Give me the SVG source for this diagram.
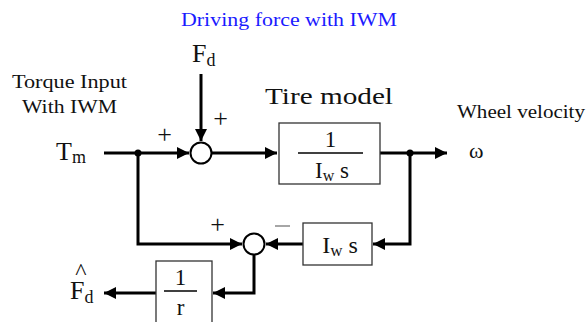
<svg xmlns="http://www.w3.org/2000/svg" width="587" height="322" viewBox="0 0 587 322">
<style>
text{font-family:"Liberation Serif","Times New Roman",serif;fill:#111}
.ln{fill:none;stroke:#000;stroke-width:3}
.bx{fill:#fff;stroke:#333;stroke-width:1.3}
.sum{fill:#fff;stroke:#000;stroke-width:2}
.fl{stroke:#000;stroke-width:1.5}
.pl{font-size:26px;text-anchor:middle}
</style>
<defs>
<marker id="ah" markerWidth="12" markerHeight="12" refX="10" refY="5" orient="auto" markerUnits="userSpaceOnUse" viewBox="0 0 10 10">
<path d="M0,0 L10,5 L0,10 Z" fill="#000"/>
</marker>
</defs>
<rect width="587" height="322" fill="#fff"/>
<text x="181" y="26" font-size="19" textLength="216" lengthAdjust="spacingAndGlyphs" style="fill:#1a1aff">Driving force with IWM</text>
<g id="labels">
<text x="12" y="88" font-size="19" textLength="115" lengthAdjust="spacingAndGlyphs">Torque Input</text>
<text x="22" y="113" font-size="19" textLength="95" lengthAdjust="spacingAndGlyphs">With IWM</text>
<text x="457" y="118" font-size="18" textLength="128" lengthAdjust="spacingAndGlyphs">Wheel velocity</text>
<text x="265" y="104" font-size="23" textLength="128" lengthAdjust="spacingAndGlyphs">Tire model</text>
<text x="56" y="160" font-size="26">T<tspan font-size="18" dy="3">m</tspan></text>
<text x="192" y="62" font-size="26">F<tspan font-size="18" dy="4">d</tspan></text>
<text x="469" y="158" font-size="22">ω</text>
<text x="70" y="299" font-size="26">F<tspan font-size="18" dy="4">d</tspan></text>
<text x="81" y="279" font-size="24" text-anchor="middle">^</text>
<text class="pl" x="164.5" y="142.5">+</text>
<text class="pl" x="220.5" y="127">+</text>
<text class="pl" x="217.5" y="233">+</text>
<line x1="275" y1="226" x2="290" y2="226" stroke="#888" stroke-width="1.5"/>
</g>
<g id="connectors">
<line class="ln" x1="104" y1="153" x2="189" y2="153" marker-end="url(#ah)"/>
<line class="ln" x1="201" y1="74" x2="201" y2="141" marker-end="url(#ah)"/>
<line class="ln" x1="212" y1="153" x2="277" y2="153" marker-end="url(#ah)"/>
<line class="ln" x1="380" y1="153" x2="447" y2="153" marker-end="url(#ah)"/>
<polyline class="ln" points="138,153 138,244 242,244" marker-end="url(#ah)"/>
<polyline class="ln" points="410,153 410,244 373,244" marker-end="url(#ah)"/>
<line class="ln" x1="303" y1="244" x2="266" y2="244" marker-end="url(#ah)"/>
<polyline class="ln" points="254,255 254,293 213,293" marker-end="url(#ah)"/>
<line class="ln" x1="156" y1="293" x2="104" y2="293" marker-end="url(#ah)"/>
<circle cx="138" cy="153" r="3.5" fill="#000"/>
<circle cx="410" cy="153" r="3.5" fill="#000"/>
</g>
<g id="sum1"><circle class="sum" cx="201" cy="153" r="10.5"/></g>
<g id="sum2"><circle class="sum" cx="254" cy="244" r="10.5"/></g>
<g id="tire">
<rect class="bx" x="279" y="123" width="101" height="61"/>
<text x="330.5" y="147" font-size="23" text-anchor="middle">1</text>
<line class="fl" x1="298" y1="153" x2="363" y2="153"/>
<text x="332" y="178" font-size="23" text-anchor="middle">I<tspan font-size="16" dy="3">w</tspan><tspan dy="-3"> s</tspan></text>
</g>
<g id="iws">
<rect class="bx" x="303" y="223" width="69" height="42"/>
<text x="340" y="253" font-size="24" text-anchor="middle">I<tspan font-size="17" dy="3">w</tspan><tspan dy="-3"> s</tspan></text>
</g>
<g id="inv_r">
<rect class="bx" x="156" y="261" width="56" height="70"/>
<text x="180.5" y="285" font-size="23" text-anchor="middle">1</text>
<line class="fl" x1="164" y1="291" x2="197" y2="291"/>
<text x="180.5" y="315" font-size="23" text-anchor="middle">r</text>
</g>
</svg>
